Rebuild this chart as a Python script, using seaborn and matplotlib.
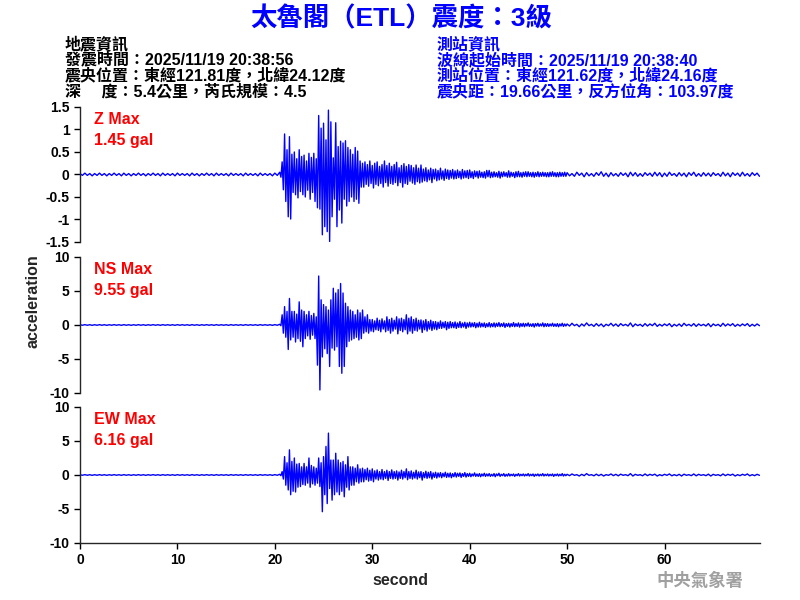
import numpy as np
import pandas as pd
import seaborn as sns
import matplotlib.pyplot as plt

# ---- data: peak high / low per time bin ----
pre_t = np.arange(0, 20.5, 0.5)       # before P arrival, 0.5 s bins (41)
main_t = np.arange(20.5, 50, 0.25)    # strong motion + coda, 0.25 s bins (118)
post_t = np.arange(50, 70, 0.5)       # tail, 0.5 s bins (40)

# Z component (gal)
z_pre_hi = [0.02, 0.03, 0.02, 0.02, 0.03, 0.02, 0.02, 0.03, 0.02, 0.03,
            0.02, 0.02, 0.03, 0.02, 0.02, 0.03, 0.02, 0.03, 0.02, 0.02,
            0.03, 0.02, 0.02, 0.03, 0.02, 0.02, 0.03, 0.02, 0.03, 0.02,
            0.02, 0.03, 0.02, 0.02, 0.03, 0.02, 0.02, 0.03, 0.02, 0.02, 0.03]
z_pre_lo = [-0.02, -0.02, -0.03, -0.02, -0.02, -0.03, -0.02, -0.02, -0.03, -0.02,
            -0.03, -0.02, -0.02, -0.03, -0.02, -0.02, -0.03, -0.02, -0.02, -0.03,
            -0.02, -0.02, -0.03, -0.02, -0.03, -0.02, -0.02, -0.03, -0.02, -0.02,
            -0.03, -0.02, -0.02, -0.03, -0.02, -0.02, -0.03, -0.02, -0.02, -0.03, -0.02]
z_hi = [0.05, 0.28,
        0.90, 0.55, 0.84, 0.45,   # 21 s
        0.50, 0.35, 0.55, 0.40,   # 22
        0.43, 0.30, 0.47, 0.38,   # 23
        0.47, 0.35, 1.31, 1.03,   # 24
        1.14, 0.77, 1.43, 1.17,   # 25
        0.37, 1.15, 0.62, 0.74,   # 26
        0.70, 0.75, 0.60, 0.55,   # 27
        0.45, 0.60, 0.52, 0.30,   # 28
        0.25, 0.28, 0.22, 0.30,   # 29
        0.20, 0.25, 0.28, 0.18,   # 30
        0.22, 0.30, 0.20, 0.25,   # 31
        0.18, 0.22, 0.27, 0.15,   # 32
        0.20, 0.24, 0.18, 0.22,   # 33
        0.20, 0.15, 0.21, 0.14,   # 34
        0.21, 0.12, 0.15, 0.10,   # 35
        0.14, 0.11, 0.12, 0.09,   # 36
        0.14, 0.08, 0.12, 0.10,   # 37
        0.09, 0.11, 0.08, 0.10,   # 38
        0.07, 0.11, 0.08, 0.09,   # 39
        0.10, 0.06, 0.08, 0.07,   # 40
        0.08, 0.05, 0.06, 0.09,   # 41
        0.09, 0.05, 0.06, 0.04,   # 42
        0.07, 0.05, 0.06, 0.04,   # 43
        0.08, 0.05, 0.04, 0.06,   # 44
        0.07, 0.04, 0.05, 0.06,   # 45
        0.06, 0.04, 0.05, 0.04,   # 46
        0.06, 0.04, 0.05, 0.04,   # 47
        0.04, 0.05, 0.06, 0.04,   # 48
        0.04, 0.05, 0.04, 0.05]   # 49
z_lo = [-0.06, -0.34,
        -0.60, -0.94, -0.99, -0.40,
        -0.45, -0.52, -0.38, -0.45,
        -0.50, -0.35, -0.55, -0.40,
        -0.60, -0.74, -0.77, -1.34,
        -1.16, -1.27, -1.49, -0.94,
        -0.55, -1.16, -0.79, -1.08,
        -0.55, -0.70, -0.60, -0.50,
        -0.60, -0.55, -0.64, -0.28,
        -0.28, -0.22, -0.26, -0.20,
        -0.30, -0.22, -0.25, -0.20,
        -0.28, -0.18, -0.26, -0.20,
        -0.22, -0.18, -0.25, -0.18,
        -0.28, -0.20, -0.22, -0.15,
        -0.19, -0.22, -0.16, -0.19,
        -0.17, -0.14, -0.16, -0.12,
        -0.18, -0.10, -0.14, -0.12,
        -0.10, -0.13, -0.09, -0.11,
        -0.08, -0.10, -0.09, -0.07,
        -0.10, -0.08, -0.07, -0.09,
        -0.07, -0.09, -0.05, -0.08,
        -0.06, -0.07, -0.08, -0.05,
        -0.07, -0.06, -0.05, -0.06,
        -0.08, -0.05, -0.04, -0.06,
        -0.06, -0.04, -0.07, -0.05,
        -0.05, -0.06, -0.04, -0.05,
        -0.04, -0.05, -0.06, -0.04,
        -0.05, -0.04, -0.04, -0.05,
        -0.05, -0.04, -0.04, -0.05,
        -0.05, -0.04, -0.04, -0.04]
z_post_hi = [0.04, 0.02, 0.05, 0.03, 0.04, 0.02, 0.04, 0.06, 0.03, 0.04,
             0.02, 0.04, 0.03, 0.05, 0.04, 0.02, 0.04, 0.03, 0.05, 0.04,
             0.03, 0.05, 0.02, 0.04, 0.03, 0.04, 0.05, 0.02, 0.04, 0.03,
             0.04, 0.02, 0.05, 0.03, 0.04, 0.03, 0.05, 0.02, 0.04, 0.03]
z_post_lo = [-0.03, -0.04, -0.02, -0.05, -0.03, -0.04, -0.02, -0.04, -0.05, -0.03,
             -0.04, -0.02, -0.05, -0.03, -0.04, -0.04, -0.02, -0.04, -0.03, -0.05,
             -0.04, -0.02, -0.04, -0.03, -0.05, -0.02, -0.04, -0.04, -0.03, -0.04,
             -0.02, -0.04, -0.03, -0.05, -0.02, -0.04, -0.03, -0.04, -0.02, -0.04]

# NS component (gal)
ns_pre_hi = [0.04, 0.05, 0.04, 0.04, 0.05, 0.04, 0.04, 0.05, 0.04, 0.05,
             0.04, 0.04, 0.05, 0.04, 0.04, 0.05, 0.04, 0.05, 0.04, 0.04,
             0.05, 0.04, 0.04, 0.05, 0.04, 0.04, 0.05, 0.04, 0.05, 0.04,
             0.04, 0.05, 0.04, 0.04, 0.05, 0.04, 0.04, 0.05, 0.04, 0.04, 0.05]
ns_pre_lo = [-0.04, -0.04, -0.05, -0.04, -0.04, -0.05, -0.04, -0.04, -0.05, -0.04,
             -0.05, -0.04, -0.04, -0.05, -0.04, -0.04, -0.05, -0.04, -0.04, -0.05,
             -0.04, -0.04, -0.05, -0.04, -0.05, -0.04, -0.04, -0.05, -0.04, -0.04,
             -0.05, -0.04, -0.04, -0.05, -0.04, -0.04, -0.05, -0.04, -0.04, -0.05, -0.04]
ns_hi = [0.1, 1.5,
         2.7, 2.0, 3.9, 2.0,      # 21 s
         2.0, 1.6, 3.4, 2.2,      # 22
         2.0, 1.5, 2.0, 1.4,      # 23
         1.7, 1.2, 7.2, 3.7,      # 24
         3.0, 2.7, 2.2, 3.7,      # 25
         5.4, 4.7, 5.2, 6.1,      # 26
         4.7, 3.2, 2.7, 2.2,      # 27
         2.0, 1.5, 2.2, 1.8,      # 28
         2.2, 1.2, 1.5, 0.8,      # 29
         0.8, 0.6, 1.0, 0.7,      # 30
         0.9, 0.6, 1.2, 0.8,      # 31
         1.0, 0.7, 1.2, 0.9,      # 32
         1.0, 0.8, 1.5, 1.0,      # 33
         1.2, 0.8, 1.0, 0.7,      # 34
         0.75, 0.6, 0.8, 0.5,     # 35
         0.7, 0.5, 0.5, 0.4,      # 36
         0.6, 0.4, 0.5, 0.4,      # 37
         0.5, 0.35, 0.45, 0.3,    # 38
         0.5, 0.3, 0.4, 0.3,      # 39
         0.4, 0.3, 0.35, 0.25,    # 40
         0.4, 0.25, 0.3, 0.2,     # 41
         0.35, 0.2, 0.3, 0.25,    # 42
         0.35, 0.2, 0.3, 0.2,     # 43
         0.25, 0.2, 0.35, 0.2,    # 44
         0.3, 0.2, 0.25, 0.2,     # 45
         0.3, 0.15, 0.2, 0.2,     # 46
         0.25, 0.15, 0.3, 0.2,    # 47
         0.2, 0.15, 0.25, 0.15,   # 48
         0.2, 0.15, 0.25, 0.15]   # 49
ns_lo = [-0.1, -1.2,
         -1.8, -3.6, -2.2, -1.8,
         -2.5, -2.0, -2.4, -3.2,
         -2.0, -1.6, -2.1, -1.5,
         -2.0, -5.9, -9.55, -4.7,
         -3.5, -4.2, -6.1, -3.4,
         -3.7, -3.2, -6.1, -7.1,
         -6.1, -3.2, -2.4, -2.2,
         -2.0, -1.8, -2.2, -2.0,
         -1.2, -1.0, -1.2, -0.9,
         -1.0, -0.7, -0.8, -1.0,
         -0.6, -1.0, -0.8, -1.2,
         -0.9, -0.6, -1.3, -0.8,
         -1.0, -0.7, -1.3, -0.9,
         -1.2, -0.8, -0.9, -0.6,
         -1.1, -0.7, -0.9, -0.6,
         -0.8, -0.6, -0.7, -0.5,
         -0.5, -0.4, -0.7, -0.5,
         -0.4, -0.4, -0.5, -0.35,
         -0.4, -0.3, -0.5, -0.3,
         -0.3, -0.25, -0.4, -0.3,
         -0.3, -0.25, -0.35, -0.25,
         -0.3, -0.25, -0.3, -0.2,
         -0.25, -0.2, -0.35, -0.2,
         -0.3, -0.2, -0.25, -0.2,
         -0.3, -0.2, -0.25, -0.15,
         -0.2, -0.2, -0.3, -0.15,
         -0.2, -0.15, -0.25, -0.2,
         -0.2, -0.15, -0.2, -0.2,
         -0.25, -0.15, -0.2, -0.15]
ns_post_hi = [0.15, 0.25, 0.1, 0.15, 0.3, 0.1, 0.2, 0.15, 0.1, 0.25,
              0.15, 0.2, 0.1, 0.3, 0.15, 0.1, 0.2, 0.15, 0.25, 0.1,
              0.15, 0.2, 0.1, 0.15, 0.25, 0.1, 0.2, 0.15, 0.1, 0.2,
              0.15, 0.1, 0.25, 0.15, 0.2, 0.1, 0.15, 0.2, 0.1, 0.15]
ns_post_lo = [-0.15, -0.1, -0.25, -0.15, -0.1, -0.2, -0.15, -0.25, -0.1, -0.15,
              -0.2, -0.1, -0.15, -0.25, -0.1, -0.2, -0.15, -0.1, -0.2, -0.15,
              -0.1, -0.25, -0.15, -0.2, -0.1, -0.15, -0.2, -0.1, -0.15, -0.25,
              -0.1, -0.2, -0.15, -0.1, -0.2, -0.15, -0.1, -0.2, -0.15, -0.1]

# EW component (gal)
ew_pre_hi = [0.04, 0.05, 0.04, 0.04, 0.05, 0.04, 0.04, 0.05, 0.04, 0.05,
             0.04, 0.04, 0.05, 0.04, 0.04, 0.05, 0.04, 0.05, 0.04, 0.04,
             0.05, 0.04, 0.04, 0.05, 0.04, 0.04, 0.05, 0.04, 0.05, 0.04,
             0.04, 0.05, 0.04, 0.04, 0.05, 0.04, 0.04, 0.05, 0.04, 0.04, 0.05]
ew_pre_lo = [-0.04, -0.04, -0.05, -0.04, -0.04, -0.05, -0.04, -0.04, -0.05, -0.04,
             -0.05, -0.04, -0.04, -0.05, -0.04, -0.04, -0.05, -0.04, -0.04, -0.05,
             -0.04, -0.04, -0.05, -0.04, -0.05, -0.04, -0.04, -0.05, -0.04, -0.04,
             -0.05, -0.04, -0.04, -0.05, -0.04, -0.04, -0.05, -0.04, -0.04, -0.05, -0.04]
ew_hi = [0.1, 0.5,
         2.7, 1.8, 3.7, 2.0,      # 21 s
         2.5, 1.6, 1.7, 1.2,      # 22
         1.7, 1.2, 2.5, 1.4,      # 23
         1.2, 1.0, 2.5, 1.8,      # 24
         2.7, 4.2, 6.16, 2.2,     # 25
         2.2, 3.2, 2.2, 1.8,      # 26
         2.0, 1.5, 2.7, 1.2,      # 27
         1.2, 1.0, 1.5, 0.9,      # 28
         1.0, 0.8, 1.0, 0.7,      # 29
         0.9, 0.6, 0.75, 0.5,     # 30
         0.8, 0.5, 0.7, 0.5,      # 31
         0.75, 0.5, 0.6, 0.45,    # 32
         0.7, 0.5, 0.9, 0.5,      # 33
         0.6, 0.4, 0.7, 0.45,     # 34
         0.5, 0.35, 0.55, 0.4,    # 35
         0.5, 0.3, 0.4, 0.3,      # 36
         0.35, 0.25, 0.4, 0.25,   # 37
         0.3, 0.2, 0.35, 0.25,    # 38
         0.3, 0.2, 0.35, 0.2,     # 39
         0.25, 0.15, 0.3, 0.15,   # 40
         0.2, 0.15, 0.25, 0.15,   # 41
         0.2, 0.1, 0.2, 0.15,     # 42
         0.25, 0.1, 0.2, 0.1,     # 43
         0.2, 0.1, 0.15, 0.1,     # 44
         0.2, 0.1, 0.15, 0.1,     # 45
         0.2, 0.1, 0.15, 0.1,     # 46
         0.15, 0.1, 0.2, 0.1,     # 47
         0.15, 0.1, 0.15, 0.1,    # 48
         0.15, 0.1, 0.2, 0.1]     # 49
ew_lo = [-0.1, -0.6,
         -1.5, -2.2, -2.9, -2.4,
         -2.5, -1.8, -1.7, -1.4,
         -1.5, -1.2, -1.8, -1.3,
         -1.5, -1.2, -1.7, -5.4,
         -2.9, -4.2, -2.0, -3.7,
         -2.9, -2.5, -2.9, -2.4,
         -3.2, -1.8, -2.2, -1.5,
         -1.5, -1.0, -1.2, -1.0,
         -1.0, -0.7, -0.9, -0.8,
         -1.0, -0.6, -0.75, -0.6,
         -0.7, -0.5, -0.8, -0.5,
         -0.6, -0.5, -0.75, -0.5,
         -0.6, -0.4, -0.7, -0.5,
         -0.6, -0.45, -0.6, -0.4,
         -0.75, -0.4, -0.5, -0.4,
         -0.6, -0.35, -0.45, -0.3,
         -0.4, -0.25, -0.35, -0.3,
         -0.4, -0.25, -0.3, -0.2,
         -0.35, -0.2, -0.3, -0.2,
         -0.25, -0.15, -0.2, -0.2,
         -0.25, -0.15, -0.2, -0.15,
         -0.2, -0.15, -0.25, -0.1,
         -0.2, -0.1, -0.2, -0.15,
         -0.15, -0.1, -0.2, -0.1,
         -0.15, -0.1, -0.15, -0.1,
         -0.15, -0.1, -0.2, -0.1,
         -0.15, -0.1, -0.15, -0.1,
         -0.15, -0.1, -0.2, -0.1,
         -0.15, -0.1, -0.15, -0.1]
ew_post_hi = [0.1, 0.15, 0.05, 0.1, 0.2, 0.05, 0.12, 0.1, 0.05, 0.15,
              0.1, 0.12, 0.05, 0.2, 0.1, 0.05, 0.15, 0.1, 0.12, 0.05,
              0.1, 0.15, 0.05, 0.1, 0.12, 0.05, 0.15, 0.1, 0.05, 0.12,
              0.1, 0.05, 0.15, 0.1, 0.12, 0.05, 0.1, 0.15, 0.05, 0.1]
ew_post_lo = [-0.1, -0.05, -0.15, -0.1, -0.05, -0.12, -0.1, -0.15, -0.05, -0.1,
              -0.12, -0.05, -0.1, -0.15, -0.05, -0.12, -0.1, -0.05, -0.15, -0.1,
              -0.05, -0.12, -0.1, -0.15, -0.05, -0.1, -0.12, -0.05, -0.1, -0.15,
              -0.05, -0.12, -0.1, -0.05, -0.15, -0.1, -0.05, -0.12, -0.1, -0.05]

components = ["Z", "NS", "EW"]
max_labels = ["1.45 gal", "9.55 gal", "6.16 gal"]
y_limits = [1.5, 10, 10]
y_ticks = [[1.5, 1, 0.5, 0, -0.5, -1, -1.5], [10, 5, 0, -5, -10], [10, 5, 0, -5, -10]]
x_ticks = [0, 10, 20, 30, 40, 50, 60]

title = "太魯閣（ETL）震度：3級"
quake_info = ["地震資訊",
              "發震時間：2025/11/19 20:38:56",
              "震央位置：東經121.81度，北緯24.12度",
              "深　 度：5.4公里，芮氏規模：4.5"]
station_info = ["測站資訊",
                "波線起始時間：2025/11/19 20:38:40",
                "測站位置：東經121.62度，北緯24.16度",
                "震央距：19.66公里，反方位角：103.97度"]


def build(segments):
    # each bin gives its high at the bin start and its low half a bin later
    xs, ys = [], []
    for t, step, hi, lo in segments:
        for ti, h, l in zip(t, hi, lo):
            xs += [ti, ti + step / 2]
            ys += [h, l]
    return pd.DataFrame({"second": xs, "acceleration": ys})


traces = [
    build([(pre_t, 0.5, z_pre_hi, z_pre_lo), (main_t, 0.25, z_hi, z_lo), (post_t, 0.5, z_post_hi, z_post_lo)]),
    build([(pre_t, 0.5, ns_pre_hi, ns_pre_lo), (main_t, 0.25, ns_hi, ns_lo), (post_t, 0.5, ns_post_hi, ns_post_lo)]),
    build([(pre_t, 0.5, ew_pre_hi, ew_pre_lo), (main_t, 0.25, ew_hi, ew_lo), (post_t, 0.5, ew_post_hi, ew_post_lo)]),
]

sns.set_style("ticks")
plt.rcParams['font.family'] = ['Liberation Sans', 'Noto Sans CJK TC', 'DejaVu Sans']
plt.rcParams['axes.unicode_minus'] = False

fig = plt.figure(figsize=(8, 6), dpi=100)
panel_boxes = [[0.1, 0.5967, 0.85, 0.225], [0.1, 0.345, 0.85, 0.2267], [0.1, 0.095, 0.85, 0.2267]]

for i, comp in enumerate(components):
    ax = fig.add_axes(panel_boxes[i])
    sns.lineplot(data=traces[i], x="second", y="acceleration", sort=False, estimator=None,
                 color="#0000ff", lw=1.0, ax=ax)
    ax.set_xlim(0, 69.8)
    ax.set_ylim(-y_limits[i], y_limits[i])
    ax.set_yticks(y_ticks[i])
    ax.set_yticklabels([f"{v:g}" for v in y_ticks[i]], fontweight="bold", fontsize=10)
    ax.set_xlabel("")
    ax.set_ylabel("")
    sns.despine(ax=ax, bottom=(i < 2))
    ax.tick_params(length=4, width=1, colors="black")
    for s in ax.spines.values():
        s.set_linewidth(1)
    if i < 2:
        ax.set_xticks([])
    else:
        ax.set_xticks(x_ticks)
        ax.set_xticklabels([str(v) for v in x_ticks], fontweight="bold", fontsize=10)
    ax.text(0.02, 0.96, f"{comp} Max", transform=ax.transAxes, color="red",
            fontsize=11.5, fontweight="bold", va="top", ha="left")
    ax.text(0.02, 0.81, max_labels[i], transform=ax.transAxes, color="red",
            fontsize=11.5, fontweight="bold", va="top", ha="left")

fig.text(0.502, 0.969, title, ha="center", va="center", color="#0000ff",
         fontsize=19, fontweight="bold")
for k, line in enumerate(quake_info):
    fig.text(0.081, 0.926 - k * 0.026, line, ha="left", va="center", color="black",
             fontsize=11.5, fontweight="bold")
for k, line in enumerate(station_info):
    fig.text(0.546, 0.926 - k * 0.026, line, ha="left", va="center", color="#0000ff",
             fontsize=11.5, fontweight="bold")

fig.text(0.041, 0.498, "acceleration", rotation=90, ha="center", va="center",
         fontsize=11.5, fontweight="bold")
fig.text(0.501, 0.033, "second", ha="center", va="center", fontsize=11.5, fontweight="bold")
fig.text(0.875, 0.033, "中央氣象署", ha="center", va="center", color="#a0a0a0",
         fontsize=12.5, fontweight="bold")

fig.savefig("out.png", dpi=100)
